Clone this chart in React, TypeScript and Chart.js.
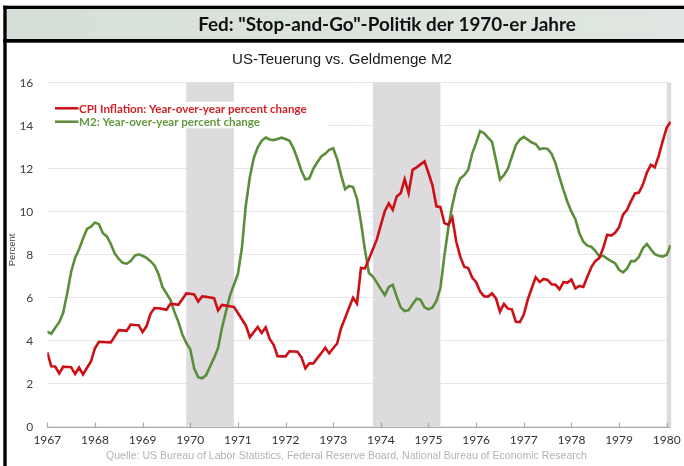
import React, { useEffect, useRef } from 'react';
import { Chart, registerables } from 'chart.js';

Chart.register(...registerables);

// ---------- DATA ----------
const START_YEAR = 1967;

// CPI inflation, year-over-year % change, monthly Jan 1967 – Feb 1980
const cpiInflation: number[] = [
  3.46, 2.81, 2.8, 2.48, 2.79, 2.78, 2.77, 2.45, 2.75, 2.43, 2.74, 3.04,
  3.65, 3.95, 3.94, 3.93, 3.92, 4.2, 4.49, 4.48, 4.46, 4.75, 4.73, 4.72,
  4.4, 4.68, 5.25, 5.52, 5.51, 5.48, 5.44, 5.71, 5.7, 5.67, 5.93, 6.2,
  6.18, 6.15, 5.82, 6.06, 6.04, 6.01, 5.98, 5.41, 5.66, 5.63, 5.6, 5.57,
  5.29, 5.0, 4.71, 4.16, 4.4, 4.64, 4.36, 4.62, 4.08, 3.81, 3.28, 3.27,
  3.27, 3.51, 3.5, 3.49, 3.23, 2.71, 2.95, 2.94, 3.19, 3.42, 3.67, 3.41,
  3.65, 3.87, 4.59, 5.06, 5.53, 6.0, 5.73, 7.38, 7.36, 7.8, 8.25, 8.71,
  9.39, 10.02, 10.39, 10.09, 10.71, 10.86, 11.51, 10.86, 11.95, 12.06, 12.2, 12.34,
  11.8, 11.23, 10.25, 10.21, 9.47, 9.39, 9.72, 8.6, 7.91, 7.44, 7.38, 6.94,
  6.72, 6.29, 6.07, 6.05, 6.2, 5.97, 5.35, 5.71, 5.49, 5.46, 4.88, 4.86,
  5.22, 5.91, 6.44, 6.95, 6.73, 6.87, 6.83, 6.62, 6.6, 6.39, 6.72, 6.7,
  6.84, 6.43, 6.55, 6.5, 6.97, 7.41, 7.7, 7.84, 8.31, 8.93, 8.89, 9.02,
  9.28, 9.86, 10.09, 10.49, 10.85, 10.89, 11.26, 11.82, 12.18, 12.07, 12.61, 13.29,
  13.91, 14.18,
];

// M2, year-over-year % change, monthly Jan 1967 – Feb 1980
const m2Growth: number[] = [
  4.42, 4.32, 4.6, 4.86, 5.3, 6.2, 7.2, 7.85, 8.25, 8.75, 9.2, 9.3,
  9.5, 9.42, 9.0, 8.85, 8.5, 8.05, 7.8, 7.62, 7.58, 7.7, 7.95, 8.02,
  7.95, 7.85, 7.7, 7.5, 7.1, 6.5, 6.2, 5.9, 5.35, 4.88, 4.3, 3.9,
  3.6, 2.7, 2.3, 2.25, 2.4, 2.8, 3.2, 3.65, 4.6, 5.35, 6.1, 6.6,
  7.1, 8.3, 10.3, 11.6, 12.5, 13.0, 13.3, 13.45, 13.36, 13.33, 13.38, 13.44,
  13.38, 13.3, 12.95, 12.45, 11.9, 11.5, 11.55, 12.0, 12.3, 12.57, 12.7, 12.88,
  12.95, 12.45, 11.7, 11.05, 11.2, 11.15, 10.6, 9.5, 8.22, 7.15, 6.98, 6.7,
  6.4, 6.12, 6.5, 6.6, 6.05, 5.55, 5.38, 5.42, 5.7, 5.95, 5.9, 5.55,
  5.46, 5.55, 5.85, 6.45, 7.95, 9.25, 10.3, 11.1, 11.55, 11.7, 11.95, 12.7,
  13.2, 13.75, 13.65, 13.45, 13.25, 12.4, 11.5, 11.7, 12.0, 12.55, 13.1, 13.35,
  13.48, 13.35, 13.22, 13.15, 12.9, 12.95, 12.92, 12.7, 12.25, 11.6, 11.0, 10.45,
  10.0, 9.65, 9.0, 8.6, 8.42, 8.37, 8.18, 7.93, 7.95, 7.82, 7.7, 7.6,
  7.3, 7.18, 7.35, 7.7, 7.7, 7.9, 8.3, 8.5, 8.25, 8.02, 7.95, 7.91,
  8.0, 8.45,
];

const yearTicks: number[] = [1967, 1968, 1969, 1970, 1971, 1972, 1973, 1974, 1975, 1976, 1977, 1978, 1979, 1980];
const percentTicks: number[] = [0, 2, 4, 6, 8, 10, 12, 14, 16];

// NBER recessions (first and last month)
const recessionStart: string[] = ['1969-12', '1973-11', '1980-01'];
const recessionEnd: string[] = ['1970-11', '1975-03', '1980-07'];

const titleText = 'Fed: "Stop-and-Go"-Politik der 1970-er Jahre';
const subtitleText = 'US-Teuerung vs. Geldmenge M2';
const sourceText = 'Quelle: US Bureau of Labor Statistics, Federal Reserve Board, National Bureau of Economic Research';
const legendLabels: string[] = ['CPI Inflation: Year-over-year percent change', 'M2: Year-over-year percent change'];
const yAxisTitle = 'Percent';

// ---------- STYLE ----------
const RED = '#cc1016';
const GREEN = '#5b8e3a';
const LEGEND_RED = '#d31f26';
const LEGEND_GREEN = '#64973f';
const SHADE = '#dddbdd';

const W = 684;
const H = 466;

function ymToYear(s: string): number {
  const [y, m] = s.split('-').map(Number);
  return y + (m - 1) / 12;
}

const decorPlugin = {
  id: 'decor',
  beforeDatasetsDraw(chart: any) {
    const { ctx, chartArea: ca, scales } = chart;
    const x = scales.x;
    ctx.save();
    ctx.fillStyle = SHADE;
    recessionStart.forEach((s, i) => {
      const a = Math.max(x.getPixelForValue(ymToYear(s)), ca.left);
      const b = Math.min(x.getPixelForValue(ymToYear(recessionEnd[i]) + 1 / 12), ca.right + 0.5);
      if (b > a) ctx.fillRect(a, ca.top, b - a, ca.bottom - ca.top);
    });
    // x axis line with upward ticks
    ctx.strokeStyle = '#a9a9a9';
    ctx.lineWidth = 1.2;
    ctx.beginPath();
    const yb = Math.round(ca.bottom) + 0.5;
    ctx.moveTo(ca.left, yb);
    ctx.lineTo(ca.right, yb);
    yearTicks.forEach((v) => {
      const px = Math.round(x.getPixelForValue(v)) + 0.5;
      ctx.moveTo(px, yb);
      ctx.lineTo(px, yb - 5);
    });
    ctx.stroke();
    ctx.restore();
  },
  afterDatasetsDraw(chart: any) {
    const { ctx, chartArea: ca } = chart;
    ctx.save();
    // legend box
    ctx.fillStyle = '#ffffff';
    ctx.fillRect(ca.left, 101.7, 328 - ca.left, 26.6);
    const rows = [
      { y: 108.3, line: RED, text: LEGEND_RED },
      { y: 121.7, line: GREEN, text: LEGEND_GREEN },
    ];
    ctx.font = 'bold 20px Lato';
    const fs = (20 * 228) / ctx.measureText(legendLabels[0]).width;
    ctx.font = `bold ${fs}px Lato`;
    ctx.textBaseline = 'middle';
    ctx.textAlign = 'left';
    rows.forEach((r, i) => {
      ctx.strokeStyle = r.line;
      ctx.lineWidth = 2.5;
      ctx.beginPath();
      ctx.moveTo(55, r.y);
      ctx.lineTo(78.5, r.y);
      ctx.stroke();
      ctx.fillStyle = r.text;
      ctx.fillText(legendLabels[i], 79, r.y + 0.5);
    });
    ctx.restore();
  },
  afterDraw(chart: any) {
    const { ctx } = chart;
    ctx.save();
    // frame & title box
    const grad = ctx.createLinearGradient(6.7, 0, W, 0);
    grad.addColorStop(0, '#d5dfd7');
    grad.addColorStop(1, '#e0e7e2');
    ctx.fillStyle = grad;
    ctx.fillRect(6.7, 9, W - 6.7, 30);
    ctx.fillStyle = '#000000';
    ctx.fillRect(3.3, 5.7, W - 3.3, 3.3);
    ctx.fillRect(3.3, 39, W - 3.3, 3.7);
    ctx.fillRect(3.3, 5.7, 3.4, H - 5.7);

    // title
    ctx.font = 'bold 20px Lato';
    const tfs = (20 * 378) / ctx.measureText(titleText).width;
    ctx.font = `bold ${tfs}px Lato`;
    ctx.fillStyle = '#111111';
    ctx.textAlign = 'center';
    ctx.textBaseline = 'middle';
    ctx.fillText(titleText, 387, 24.5);

    // subtitle
    ctx.font = '14px "Liberation Sans"';
    const sfs = (14 * 220) / ctx.measureText(subtitleText).width;
    ctx.font = `${sfs}px "Liberation Sans"`;
    ctx.fillStyle = '#1a1a1a';
    ctx.fillText(subtitleText, 342, 60);

    // source (condensed)
    ctx.font = '11px "Liberation Sans"';
    const sw = ctx.measureText(sourceText).width;
    ctx.save();
    ctx.translate(346.5, 456);
    ctx.scale(481 / sw, 1);
    ctx.fillStyle = '#b3b3b3';
    ctx.fillText(sourceText, 0, 0);
    ctx.restore();

    // y axis title
    ctx.save();
    ctx.translate(12.5, 250);
    ctx.rotate(-Math.PI / 2);
    ctx.font = '9.5px "Liberation Sans"';
    ctx.fillStyle = '#404040';
    ctx.fillText(yAxisTitle, 0, 0);
    ctx.restore();
    ctx.restore();
  },
};

export default function App() {
  const ref = useRef<HTMLCanvasElement | null>(null);

  useEffect(() => {
    if (!ref.current) return;
    const months = cpiInflation.map((_, i) => START_YEAR + i / 12);
    const chart = new Chart(ref.current, {
      type: 'line',
      data: {
        datasets: [
          {
            label: legendLabels[0],
            data: cpiInflation.map((v, i) => ({ x: months[i], y: v })),
            borderColor: RED,
            borderWidth: 2.6,
            pointRadius: 0,
            tension: 0,
            fill: false,
          },
          {
            label: legendLabels[1],
            data: m2Growth.map((v, i) => ({ x: months[i], y: v })),
            borderColor: GREEN,
            borderWidth: 2.6,
            pointRadius: 0,
            tension: 0,
            fill: false,
          },
        ],
      },
      plugins: [decorPlugin],
      options: {
        responsive: false,
        animation: false,
        devicePixelRatio: 1,
        layout: { padding: { left: 0, right: W - 670.7, top: 82.7, bottom: 0 } },
        plugins: {
          legend: { display: false },
          title: { display: false },
          tooltip: { enabled: false },
        },
        scales: {
          x: {
            type: 'linear',
            min: START_YEAR,
            max: 1980 + 1 / 12,
            grid: { display: false, drawTicks: false },
            border: { display: false },
            afterBuildTicks: (scale: any) => {
              scale.ticks = yearTicks.map((v) => ({ value: v }));
            },
            afterFit: (scale: any) => {
              scale.height = 39.3;
              scale.paddingLeft = 0;
              scale.paddingRight = 0;
            },
            ticks: {
              autoSkip: false,
              maxRotation: 0,
              padding: 6,
              color: '#333333',
              font: { family: 'Lato', size: 12 },
              callback: (v: any) => String(v),
            },
          },
          y: {
            min: 0,
            max: 16,
            afterBuildTicks: (scale: any) => {
              scale.ticks = percentTicks.map((v) => ({ value: v }));
            },
            afterFit: (scale: any) => {
              scale.width = 47.3;
              scale.paddingTop = 0;
              scale.paddingBottom = 0;
            },
            grid: { color: '#e6e6e6', lineWidth: 1, drawTicks: false },
            border: { display: false },
            ticks: {
              padding: 14,
              color: '#404040',
              font: { family: 'Lato', size: 12 },
              callback: (v: any) => String(v),
            },
          },
        },
      },
    });
    return () => chart.destroy();
  }, []);

  return (
    <div style={{ position: 'fixed', left: 0, top: 0, width: W, height: H, background: '#ffffff' }}>
      <canvas ref={ref} width={W} height={H} style={{ display: 'block', width: W, height: H }} />
    </div>
  );
}
